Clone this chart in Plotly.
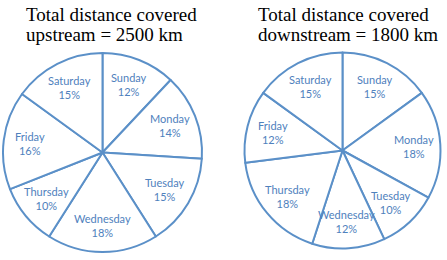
import math
import plotly.graph_objects as go

days = ["Sunday", "Monday", "Tuesday", "Wednesday", "Thursday", "Friday", "Saturday"]
upstream = [12, 14, 15, 18, 10, 16, 15]
downstream = [15, 18, 10, 12, 18, 12, 15]
title_line1 = ["Total distance covered", "Total distance covered"]
title_line2 = ["upstream = 2500 km", "downstream = 1800 km"]

W, H = 447, 260
LINE = "#5b90c8"
TEXT = "#4f81bd"

fig = go.Figure()

def dom(cx, cy, r):
    return dict(x=[(cx - r) / W, (cx + r) / W], y=[(H - cy - r) / H, (H - cy + r) / H])

pies = [(upstream, (102.5, 152.5, 99.5)), (downstream, (342.5, 150.5, 98))]
for vals, (cx, cy, r) in pies:
    fig.add_trace(go.Pie(
        labels=days, values=vals, sort=False, direction="clockwise", rotation=0,
        marker=dict(colors=["white"] * len(days), line=dict(color=LINE, width=2)),
        textinfo="none", hoverinfo="skip", showlegend=False, domain=dom(cx, cy, r),
    ))
    total = sum(vals)
    cum = 0
    for lab, v in zip(days, vals):
        mid = (cum + v / 2) / total * 2 * math.pi
        cum += v
        f = 0.73
        x = cx + f * r * math.sin(mid)
        y = cy - f * r * math.cos(mid)
        fig.add_annotation(text=f"{lab}<br>{v}%", x=x / W, y=1 - y / H, xref="paper", yref="paper",
                           xanchor="center", yanchor="middle", showarrow=False, align="center",
                           font=dict(family="Lato", size=11, color=TEXT))

for l1, l2, x in zip(title_line1, title_line2, [24 / W, 256 / W]):
    for t, yc in [(l1, 14), (l2, 34.5)]:
        fig.add_annotation(text=t, x=x, y=1 - yc / H, xref="paper", yref="paper",
                           xanchor="left", yanchor="middle", showarrow=False, align="left",
                           font=dict(family="Liberation Serif", size=19, color="black"))

fig.update_layout(width=W, height=H, margin=dict(l=0, r=0, t=0, b=0),
                  paper_bgcolor="white", plot_bgcolor="white")
fig.write_html("out.html")
